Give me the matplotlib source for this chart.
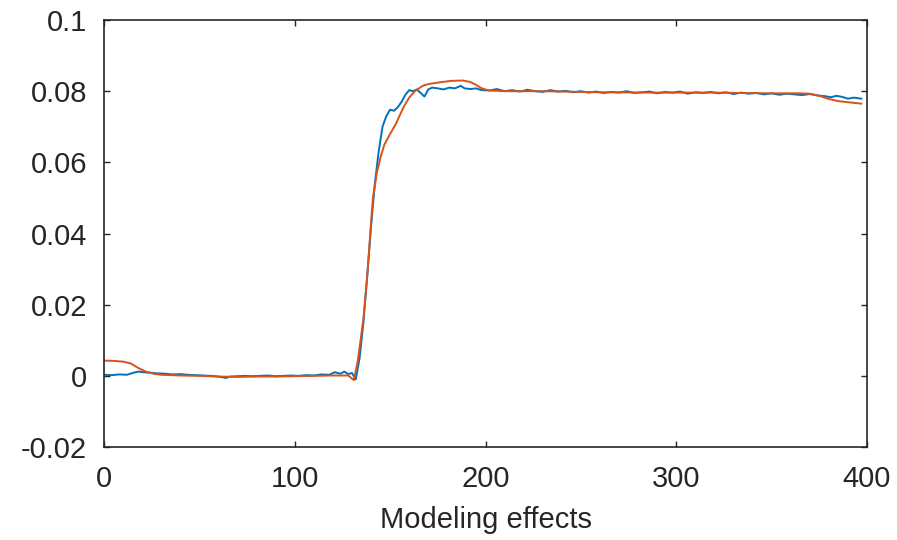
import matplotlib
matplotlib.use("Agg")
import matplotlib.pyplot as plt

# measured response (blue, noisy)
x_meas = [0, 4, 8, 12, 15, 18, 21, 24, 28, 32, 36, 40, 44, 48, 52, 56, 60, 64, 66,
          70, 74, 78, 82, 86, 90, 94, 98, 102, 106, 110, 114, 118, 121, 124, 126,
          128, 130, 132, 134, 136, 138, 140, 142, 144, 146, 148, 150, 152, 154, 156,
          158, 160, 162, 164, 166, 168, 170, 172, 175, 178, 181, 184, 187, 189, 192,
          195, 198, 202, 206, 210, 214, 218, 222, 226, 230, 234, 238, 242, 246, 250,
          254, 258, 262, 266, 270, 274, 278, 282, 286, 290, 294, 298, 302, 306, 310,
          314, 318, 322, 326, 330, 334, 338, 342, 346, 350, 354, 358, 362, 366, 370,
          374, 378, 381, 384, 387, 390, 393, 397]
y_meas = [0.0003, 0.0002, 0.0004, 0.0003, 0.0008, 0.0012, 0.0010, 0.0009, 0.0007,
          0.0006, 0.0004, 0.0005, 0.0003, 0.0002, 0.0001, 0.0000, -0.0002, -0.0006,
          -0.0002, -0.0001, 0.0000, -0.0001, 0.0000, 0.0001, -0.0001, 0.0000, 0.0001,
          0.0000, 0.0002, 0.0001, 0.0004, 0.0003, 0.0010, 0.0006, 0.0012, 0.0005,
          0.0008, -0.0010, 0.0050, 0.0150, 0.0280, 0.0420, 0.0540, 0.0630, 0.0700,
          0.0730, 0.0748, 0.0745, 0.0755, 0.0770, 0.0790, 0.0803, 0.0800, 0.0805,
          0.0795, 0.0785, 0.0805, 0.0810, 0.0808, 0.0805, 0.0810, 0.0808, 0.0815,
          0.0808, 0.0806, 0.0808, 0.0803, 0.0802, 0.0806, 0.0800, 0.0803, 0.0799,
          0.0804, 0.0800, 0.0798, 0.0803, 0.0799, 0.0801, 0.0797, 0.0800, 0.0796,
          0.0799, 0.0795, 0.0798, 0.0796, 0.0800, 0.0795, 0.0797, 0.0799, 0.0794,
          0.0798, 0.0796, 0.0799, 0.0793, 0.0797, 0.0795, 0.0798, 0.0794, 0.0797,
          0.0792, 0.0796, 0.0793, 0.0795, 0.0791, 0.0794, 0.0790, 0.0793, 0.0791,
          0.0789, 0.0792, 0.0788, 0.0786, 0.0783, 0.0787, 0.0784, 0.0779, 0.0782,
          0.0779]

# model output (red, smooth)
x_model = [0, 5, 10, 14, 18, 22, 26, 30, 40, 50, 60, 70, 80, 90, 100, 110, 120, 128,
           131, 133, 136, 138, 140, 141, 143, 145, 147, 150, 153, 157, 160, 163, 167,
           170, 176, 182, 188, 192, 195, 198, 202, 210, 230, 260, 290, 320, 350, 365,
           370, 375, 380, 385, 390, 397]
y_model = [0.0043, 0.0042, 0.0040, 0.0035, 0.0022, 0.0012, 0.0006, 0.0003, 0.0001,
           0.0000, -0.0002, -0.0003, -0.0002, -0.0002, -0.0001, 0.0000, 0.0001, 0.0001,
           -0.0012, 0.0040, 0.0160, 0.0280, 0.0430, 0.0500, 0.0570, 0.0615, 0.0650,
           0.0680, 0.0708, 0.0755, 0.0782, 0.0800, 0.0815, 0.0820, 0.0825, 0.0829,
           0.0830, 0.0826, 0.0818, 0.0808, 0.0802, 0.0800, 0.0800, 0.0797, 0.0796,
           0.0796, 0.0794, 0.0794, 0.0793, 0.0787, 0.0778, 0.0772, 0.0769, 0.0765]

x_ticks = [0, 100, 200, 300, 400]
y_ticks = [-0.02, 0, 0.02, 0.04, 0.06, 0.08, 0.1]
y_ticklabels = ['-0.02', '0', '0.02', '0.04', '0.06', '0.08', '0.1']

plt.rcParams['font.family'] = ['Liberation Sans', 'DejaVu Sans']
txt = '#262626'

fig = plt.figure(figsize=(8.97, 5.40), dpi=100)
ax = fig.add_axes([0.1159, 0.1722, 0.8507, 0.7907])

ax.plot(x_meas, y_meas, color='#0072BD', lw=1.4)
ax.plot(x_model, y_model, color='#D95319', lw=1.4)

ax.set_xlim(0, 400)
ax.set_ylim(-0.02, 0.1)
ax.set_xticks(x_ticks)
ax.set_yticks(y_ticks)
ax.set_yticklabels(y_ticklabels)

ax.tick_params(direction='in', length=4, width=1, colors=txt, labelsize=21,
               top=True, right=True)
ax.tick_params(axis='x', pad=13)
ax.tick_params(axis='y', pad=12)
for s in ax.spines.values():
    s.set_color(txt)
    s.set_linewidth(1.2)

ax.set_xlabel('Modeling effects', fontsize=21, color=txt, labelpad=9)

fig.savefig('out.png', dpi=100)
